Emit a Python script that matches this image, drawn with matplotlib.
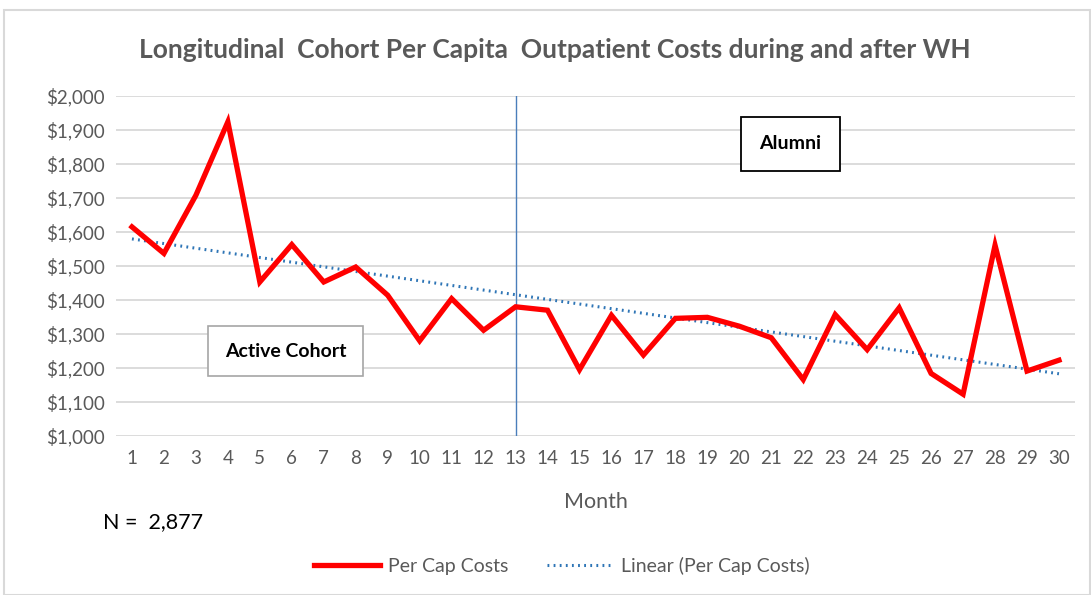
import matplotlib
matplotlib.use("Agg")
import matplotlib.pyplot as plt
import numpy as np
from matplotlib.patches import Rectangle
from matplotlib.ticker import FuncFormatter

months = list(range(1, 31))
per_cap_costs = [1615, 1537, 1708, 1924, 1453, 1563, 1453, 1497, 1414, 1280,
                 1404, 1311, 1380, 1370, 1195, 1355, 1238, 1346, 1349, 1323,
                 1289, 1166, 1357, 1254, 1377, 1184, 1123, 1561, 1191, 1223]
transition_month = 13
n_members = "2,877"

plt.rcParams["font.family"] = ["Lato", "DejaVu Sans"]

fig = plt.figure(figsize=(10.91, 5.95), dpi=100)
fig.patches.append(Rectangle((0.004, 0.0), 0.995, 0.983, transform=fig.transFigure,
                             fill=False, edgecolor="#d9d9d9", linewidth=1.5))
ax = fig.add_axes([0.1063, 0.2672, 0.8790, 0.5715])

# linear trend of the monthly costs
slope, intercept = np.polyfit(months, per_cap_costs, 1)
trend = [slope * m + intercept for m in months]

ax.plot(months, per_cap_costs, color="#ff0000", linewidth=3.8, label="Per Cap Costs",
        solid_joinstyle="miter", zorder=3)
ax.plot(months, trend, color="#2e75b6", linewidth=2.2, linestyle=(0, (0.6, 1.4)),
        label="Linear (Per Cap Costs)", zorder=2)
ax.axvline(transition_month, color="#4a7ebb", linewidth=1.0, zorder=1)

ax.set_xlim(0.5, 30.5)
ax.set_ylim(1000, 2000)
ax.set_yticks(range(1000, 2001, 100))
ax.set_xticks(months)
ax.yaxis.set_major_formatter(FuncFormatter(lambda v, p: f"${v:,.0f}"))
ax.grid(axis="y", color="#d9d9d9", linewidth=1.3)
ax.set_axisbelow(True)
for s in ax.spines.values():
    s.set_visible(False)
ax.tick_params(length=0, labelsize=13.5, labelcolor="#595959")
ax.tick_params(axis="x", pad=10)
ax.tick_params(axis="y", pad=8)

ax.set_xlabel("Month", fontsize=15.5, color="#595959", labelpad=18)
ax.set_title("Longitudinal  Cohort Per Capita  Outpatient Costs during and after WH",
             fontsize=19, color="#595959", fontweight="bold", pad=27, x=0.458)

ax.text(5.8, 1250, "Active Cohort", fontsize=14, fontweight="bold", ha="center", va="center",
        bbox=dict(boxstyle="square,pad=0.85", facecolor="white", edgecolor="#a6a6a6", linewidth=1.2))
ax.text(21.6, 1860, "Alumni", fontsize=14, fontweight="bold", ha="center", va="center",
        bbox=dict(boxstyle="square,pad=0.95", facecolor="white", edgecolor="black", linewidth=1.3))

fig.text(0.094, 0.122, f"N =  {n_members}", fontsize=15.5, color="black", va="center")

fig.legend(loc="center", bbox_to_anchor=(0.515, 0.049), ncol=2, frameon=False,
           fontsize=14, labelcolor="#595959", handlelength=3.4, columnspacing=2.0,
           handletextpad=0.4)

fig.savefig("out.png", dpi=100)
